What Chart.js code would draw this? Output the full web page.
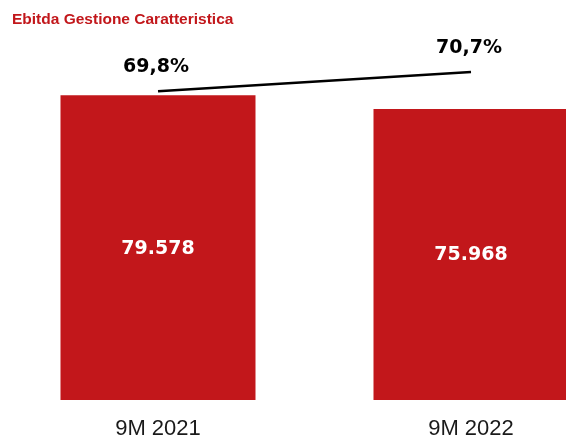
<!DOCTYPE html>
<html>
<head>
<meta charset="utf-8">
<script src="https://cdn.jsdelivr.net/npm/chart.js@4.4.1/dist/chart.umd.min.js"></script>
<style>
  html, body { margin: 0; padding: 0; background: #ffffff; overflow: hidden; }
  #c { display: block; }
</style>
</head>
<body>
<canvas id="c" width="566" height="439"></canvas>
<script>
const categories = ['9M 2021', '9M 2022'];
const ebitdaValues = [79578, 75968];
const marginPct = [69.8, 70.7];
const chartTitle = 'Ebitda Gestione Caratteristica';

const RED = '#C2171B';
const FONT = "'Liberation Sans', Arial, sans-serif";
const BOLDFONT = "'DejaVu Sans', Verdana, sans-serif";

function fmtThousands(v) {
  return String(Math.round(v)).replace(/\B(?=(\d{3})+(?!\d))/g, '.');
}
function fmtPct(v) {
  return v.toFixed(1).replace('.', ',') + '%';
}

const labelPlugin = {
  id: 'valueLabels',
  afterDatasetsDraw(chart) {
    const ctx = chart.ctx;
    ctx.save();
    ctx.textAlign = 'center';
    ctx.textBaseline = 'middle';
    chart.data.datasets.forEach((ds, di) => {
      const meta = chart.getDatasetMeta(di);
      meta.data.forEach((el, i) => {
        const v = ds.data[i];
        if (meta.type === 'bar') {
          ctx.fillStyle = '#ffffff';
          ctx.font = 'bold 19px ' + BOLDFONT;
          ctx.fillText(fmtThousands(v), el.x, (el.y + el.base) / 2 + 1);
        } else {
          ctx.fillStyle = '#000000';
          ctx.font = 'bold 19px ' + BOLDFONT;
          ctx.fillText(fmtPct(v), el.x - 2, el.y - 24);
        }
      });
    });
    ctx.restore();
  }
};

new Chart(document.getElementById('c'), {
  type: 'bar',
  data: {
    labels: categories,
    datasets: [
      {
        type: 'line',
        label: 'Margine',
        data: marginPct,
        yAxisID: 'y2',
        borderColor: '#000000',
        borderWidth: 2.5,
        pointRadius: 0,
        fill: false,
        tension: 0,
        clip: false
      },
      {
        type: 'bar',
        label: 'Ebitda',
        data: ebitdaValues,
        yAxisID: 'y',
        backgroundColor: RED,
        borderWidth: 0,
        categoryPercentage: 1,
        barPercentage: 0.623,
        clip: false
      }
    ]
  },
  options: {
    responsive: false,
    animation: false,
    layout: { padding: { left: 12, right: 0, top: 0, bottom: 0 } },
    plugins: {
      legend: { display: false },
      tooltip: { enabled: false },
      title: {
        display: true,
        text: chartTitle,
        align: 'start',
        color: RED,
        font: { family: FONT, size: 15.5, weight: 'bold' },
        padding: { top: 10, bottom: 7.6 }
      }
    },
    scales: {
      x: {
        offset: false,
        grid: { display: false, drawTicks: false },
        border: { display: false },
        ticks: {
          color: '#1a1a1a',
          font: { family: FONT, size: 22 },
          padding: 16,
          maxRotation: 0,
          autoSkip: false
        },
        afterFit(s) { s.height = 39; }
      },
      y: {
        position: 'left',
        min: 0,
        max: 95000,
        grid: { display: false, drawTicks: false },
        border: { display: false },
        ticks: { display: false },
        afterFit(s) { s.width = 146; }
      },
      y2: {
        position: 'right',
        min: 55.4,
        max: 72.37,
        grid: { display: false, drawTicks: false },
        border: { display: false },
        ticks: { display: false },
        afterFit(s) { s.width = 95; }
      }
    }
  },
  plugins: [labelPlugin]
});
</script>
</body>
</html>
